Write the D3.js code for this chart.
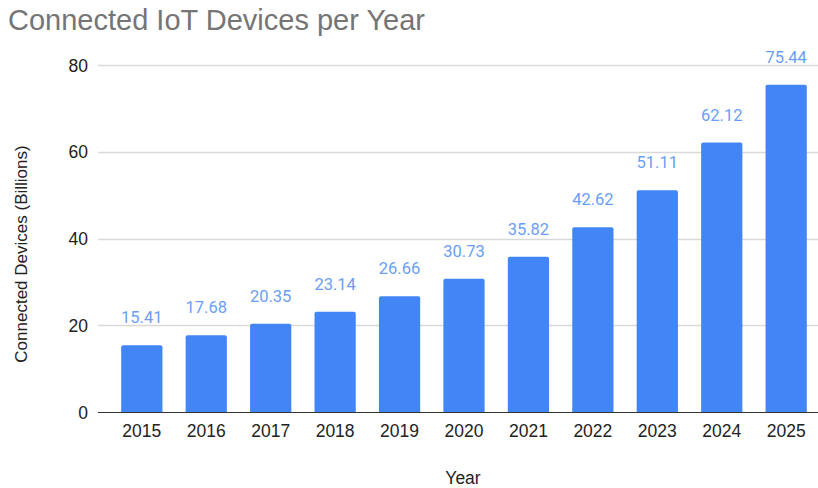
<!DOCTYPE html>
<html>
<head>
<meta charset="utf-8">
<title>Connected IoT Devices per Year</title>
<script src="https://d3js.org/d3.v7.min.js"></script>
<style>
  body { margin: 0; background: #fff; }
  svg { display: block; }
</style>
</head>
<body>
<div id="chart"></div>
<script>
const years = ["2015", "2016", "2017", "2018", "2019", "2020", "2021", "2022", "2023", "2024", "2025"];
const devices = [15.41, 17.68, 20.35, 23.14, 26.66, 30.73, 35.82, 42.62, 51.11, 62.12, 75.44];
const yTicks = [0, 20, 40, 60, 80];

const W = 818, H = 488;
const plotLeft = 98, plotRight = 818, plotTop = 65, plotBottom = 412;

const svg = d3.select("#chart").append("svg")
    .attr("width", W)
    .attr("height", H);

const x = d3.scaleBand()
    .domain(years)
    .range([plotLeft, 830])
    .paddingInner(0.36)
    .paddingOuter(0.36);

const y = d3.scaleLinear()
    .domain([0, 80])
    .range([plotBottom, plotTop]);

// gridlines
svg.append("g")
    .selectAll("line")
    .data(yTicks.filter(d => d > 0))
    .join("line")
    .attr("x1", plotLeft)
    .attr("x2", plotRight)
    .attr("y1", d => Math.round(y(d)) + 0.5)
    .attr("y2", d => Math.round(y(d)) + 0.5)
    .attr("stroke", "#d9d9d9")
    .attr("stroke-width", 1.5);

// y tick labels
svg.append("g")
    .selectAll("text")
    .data(yTicks)
    .join("text")
    .attr("x", 88)
    .attr("y", d => y(d) + 6.5)
    .attr("text-anchor", "end")
    .attr("font-family", "Liberation Sans, Arial, sans-serif")
    .attr("font-size", 17.5)
    .attr("fill", "#222")
    .text(d => d);

// bars
svg.append("g")
    .selectAll("path")
    .data(years)
    .join("path")
    .attr("fill", "#4285f4")
    .attr("d", (d, i) => {
        const x0 = x(d), w = x.bandwidth(), y0 = y(devices[i]), y1 = y(0), r = 2;
        return `M${x0},${y1}V${y0 + r}Q${x0},${y0} ${x0 + r},${y0}H${x0 + w - r}Q${x0 + w},${y0} ${x0 + w},${y0 + r}V${y1}Z`;
    });

// baseline
svg.append("line")
    .attr("x1", plotLeft)
    .attr("x2", plotRight)
    .attr("y1", y(0) + 0.5)
    .attr("y2", y(0) + 0.5)
    .attr("stroke", "#333")
    .attr("stroke-width", 1);

// value labels
svg.append("g")
    .selectAll("text")
    .data(years)
    .join("text")
    .attr("x", d => x(d) + x.bandwidth() / 2)
    .attr("y", (d, i) => y(devices[i]) - 22)
    .attr("text-anchor", "middle")
    .attr("font-family", "Roboto, sans-serif")
    .attr("font-size", 16.5)
    .attr("fill", "#6a9ef6")
    .text((d, i) => devices[i].toFixed(2));

// x tick labels
svg.append("g")
    .selectAll("text")
    .data(years)
    .join("text")
    .attr("x", d => x(d) + x.bandwidth() / 2)
    .attr("y", 437)
    .attr("text-anchor", "middle")
    .attr("font-family", "Liberation Sans, Arial, sans-serif")
    .attr("font-size", 17.5)
    .attr("fill", "#222")
    .text(d => d);

// axis titles
svg.append("text")
    .attr("x", 463)
    .attr("y", 484)
    .attr("text-anchor", "middle")
    .attr("font-family", "Liberation Sans, Arial, sans-serif")
    .attr("font-size", 17.5)
    .attr("fill", "#222")
    .text("Year");

svg.append("text")
    .attr("transform", "translate(27,254) rotate(-90)")
    .attr("text-anchor", "middle")
    .attr("font-family", "Liberation Sans, Arial, sans-serif")
    .attr("font-size", 17)
    .attr("fill", "#222")
    .text("Connected Devices (Billions)");

// title
svg.append("text")
    .attr("x", 8)
    .attr("y", 30)
    .attr("font-family", "Liberation Sans, Arial, sans-serif")
    .attr("font-size", 29)
    .attr("fill", "#757575")
    .text("Connected IoT Devices per Year");
</script>
</body>
</html>
